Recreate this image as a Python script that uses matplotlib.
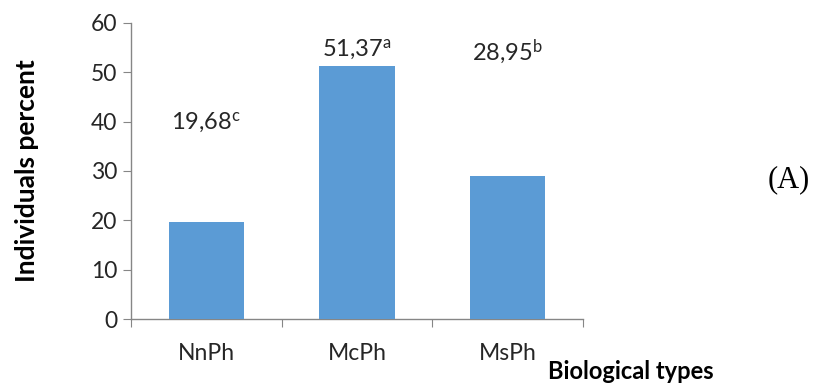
import numpy as np
import matplotlib
matplotlib.use("Agg")
import matplotlib.pyplot as plt

# ── Data ──────────────────────────────────────────────────────────────────────
categories = ["NnPh", "McPh", "MsPh"]
values = [19.68, 51.37, 28.95]
letters = ["c", "a", "b"]
label_y = [39.7, 54.5, 54.2]   # where the value labels sit (data units)
y_ticks = [0, 10, 20, 30, 40, 50, 60]

BAR_COLOR = "#5B9BD5"
AXIS_COLOR = "#868686"
TEXT_COLOR = "#262626"

plt.rcParams.update({
    "font.family": ["Lato", "DejaVu Sans"],
    "mathtext.fontset": "custom",
    "mathtext.rm": "Lato",
    "mathtext.it": "Lato",
    "mathtext.bf": "Lato:bold",
})

fig = plt.figure(figsize=(8.16, 3.87), dpi=100)
ax = fig.add_axes([0.1605, 0.1757, 0.554, 0.765])

x = np.arange(len(categories))
ax.bar(x, values, width=0.5, color=BAR_COLOR, zorder=3)

for xi, v, lt, ly in zip(x, values, letters, label_y):
    ax.text(xi, ly, f"{v:.2f}".replace(".", ",") + r"$^{\mathrm{" + lt + "}}$",
            ha="center", va="center", fontsize=17, color=TEXT_COLOR)

ax.set_xlim(-0.5, len(categories) - 0.5)
ax.set_ylim(0, 60)
ax.set_yticks(y_ticks)
ax.tick_params(axis="y", direction="out", length=6, color=AXIS_COLOR,
               labelsize=16.5, labelcolor=TEXT_COLOR, pad=4)

# boundaries as major ticks, names as minor ticks
ax.set_xticks(np.arange(len(categories) + 1) - 0.5)
ax.set_xticklabels([])
ax.set_xticks(x, minor=True)
ax.set_xticklabels(categories, minor=True)
ax.tick_params(axis="x", which="major", direction="out", length=6, color=AXIS_COLOR)
ax.tick_params(axis="x", which="minor", length=0, labelsize=16.5,
               labelcolor=TEXT_COLOR, pad=17)

for s in ["top", "right"]:
    ax.spines[s].set_visible(False)
for s in ["left", "bottom"]:
    ax.spines[s].set_color(AXIS_COLOR)
    ax.spines[s].set_linewidth(1.0)

fig.text(0.033, 0.56, "Individuals percent", rotation=90, ha="center",
         va="center", fontsize=19, fontweight="bold", color="black")
fig.text(0.672, 0.04, "Biological types", ha="left", va="center",
         fontsize=17, fontweight="bold", color="black")
fig.text(0.993, 0.535, "(A)", ha="right", va="center", fontsize=22,
         family="Liberation Serif", color="black")

fig.savefig("out.png", dpi=100, facecolor="white")
